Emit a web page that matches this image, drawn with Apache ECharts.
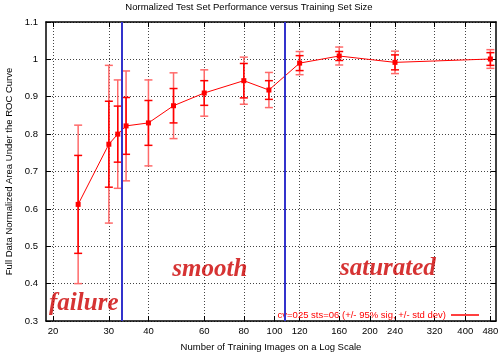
<!DOCTYPE html>
<html><head><meta charset="utf-8">
<script src="https://cdn.jsdelivr.net/npm/echarts@6/dist/echarts.min.js"></script>
<style>html,body{margin:0;padding:0;background:#fff}#c{width:498px;height:357px}</style>
</head><body><div id="c"></div>
<script>
// Training set sizes (x) and normalized AUC (y)
var trainSizes = [24, 30, 32, 34, 40, 48, 60, 80, 96, 120, 160, 240, 480];
var aucMean    = [0.612, 0.773, 0.800, 0.822, 0.830, 0.876, 0.910, 0.943, 0.918, 0.990, 1.009, 0.992, 1.001];
var sig95      = [0.212, 0.211, 0.145, 0.147, 0.115, 0.088, 0.062, 0.063, 0.047, 0.031, 0.024, 0.030, 0.025];
var stdDev     = [0.131, 0.115, 0.075, 0.076, 0.060, 0.046, 0.033, 0.046, 0.025, 0.020, 0.012, 0.020, 0.017];
var xTickValues = [20, 30, 40, 60, 80, 100, 120, 160, 200, 240, 320, 400, 480];
var regionBounds = [33, 108];
var annotTexts = ['failure', 'smooth', 'saturated'];
var annotX = [25, 62.5, 228];
var annotY = [0.346, 0.438, 0.440];
var seriesName = 'cv=025 sts=06 (+/- 95% sig, +/- std dev)';

var lineData = trainSizes.map(function (x, i) { return [x, aucMean[i]]; });
var errData = trainSizes.map(function (x, i) {
  return [x, aucMean[i] - sig95[i], aucMean[i] + sig95[i], aucMean[i] - stdDev[i], aucMean[i] + stdDev[i]];
});
var annotData = annotTexts.map(function (t, i) { return { value: [annotX[i], annotY[i]], name: t }; });

var FONT = 'Liberation Sans';
var chart = echarts.init(document.getElementById('c'), null, { renderer: 'canvas' });

function xAxisCfg(pos, showLabel) {
  return {
    type: 'log', logBase: 10, min: 19, max: 500, position: pos,
    name: showLabel ? 'Number of Training Images on a Log Scale' : '',
    nameLocation: 'middle', nameGap: 21,
    nameTextStyle: { fontFamily: FONT, fontSize: 9.5, color: '#000' },
    axisLine: { show: true, onZero: false, lineStyle: { color: '#000', width: 1.5 } },
    axisTick: { show: true, inside: true, length: 5, customValues: xTickValues, lineStyle: { color: '#000', width: 1 } },
    axisLabel: { show: showLabel, customValues: xTickValues, fontFamily: FONT, fontSize: 9.5, color: '#000', margin: 5 },
    splitLine: { show: showLabel, lineStyle: { color: '#444', width: 1, type: [1, 2] } },
    minorTick: { show: false }, minorSplitLine: { show: false }
  };
}
function yAxisCfg(pos, showLabel) {
  return {
    type: 'value', min: 0.3, max: 1.1, interval: 0.1, position: pos,
    name: showLabel ? 'Full Data Normalized Area Under the ROC Curve' : '',
    nameLocation: 'middle', nameGap: 28,
    nameTextStyle: { fontFamily: FONT, fontSize: 9.5, color: '#000' },
    axisLine: { show: true, onZero: false, lineStyle: { color: '#000', width: 1.5 } },
    axisTick: { show: true, inside: true, length: 5, lineStyle: { color: '#000', width: 1 } },
    axisLabel: { show: showLabel, fontFamily: FONT, fontSize: 9.5, color: '#000', margin: 8,
      formatter: function (v) { return String(Math.round(v * 10) / 10); } },
    splitLine: { show: showLabel, lineStyle: { color: '#444', width: 1, type: [1, 2] } }
  };
}

chart.setOption({
  animation: false,
  backgroundColor: '#fff',
  title: {
    text: 'Normalized Test Set Performance versus Training Set Size',
    left: 'center', top: 2, padding: 0,
    textStyle: { fontFamily: FONT, fontSize: 9.5, fontWeight: 'normal', color: '#000' }
  },
  legend: {
    data: [seriesName], right: 14, top: 305, align: 'right',
    icon: 'rect', itemWidth: 28, itemHeight: 1.5,
    textStyle: { fontFamily: FONT, fontSize: 9.5, color: '#ff0000' },
    itemStyle: { color: '#ff0000' }
  },
  grid: { left: 46, right: 2, top: 22, bottom: 36, containLabel: false, outerBoundsMode: 'none' },
  xAxis: [xAxisCfg('bottom', true), xAxisCfg('top', false)],
  yAxis: [yAxisCfg('left', true), yAxisCfg('right', false)],
  series: [
    {
      type: 'custom', name: 'err', xAxisIndex: 0, yAxisIndex: 0, z: 3,
      data: errData, encode: { x: 0, y: [1, 2, 3, 4] },
      renderItem: function (params, api) {
        var x = api.value(0);
        var lo95 = api.coord([x, api.value(1)]);
        var hi95 = api.coord([x, api.value(2)]);
        var loSd = api.coord([x, api.value(3)]);
        var hiSd = api.coord([x, api.value(4)]);
        var hw = 4;
        function seg(x1, y1, x2, y2, col) {
          return { type: 'line', shape: { x1: x1, y1: y1, x2: x2, y2: y2 },
            style: { stroke: col, lineWidth: 1.5 } };
        }
        var light = '#ff6a6a', dark = '#ff0000';
        return { type: 'group', children: [
          seg(lo95[0], lo95[1], hi95[0], hi95[1], light),
          seg(loSd[0], loSd[1], hiSd[0], hiSd[1], dark),
          seg(lo95[0] - hw, lo95[1], lo95[0] + hw, lo95[1], light),
          seg(hi95[0] - hw, hi95[1], hi95[0] + hw, hi95[1], light),
          seg(loSd[0] - hw, loSd[1], loSd[0] + hw, loSd[1], dark),
          seg(hiSd[0] - hw, hiSd[1], hiSd[0] + hw, hiSd[1], dark)
        ] };
      }
    },
    {
      type: 'line', name: seriesName, data: lineData, z: 4,
      lineStyle: { color: '#ff0000', width: 1 },
      itemStyle: { color: '#ff0000' },
      symbol: 'rect', symbolSize: 5, showSymbol: true,
      markLine: {
        silent: true, symbol: 'none', label: { show: false },
        lineStyle: { color: '#3333cc', width: 2, type: 'solid' },
        data: regionBounds.map(function (v) { return { xAxis: v }; })
      }
    },
    {
      type: 'scatter', name: 'annot', data: annotData, symbolSize: 0, z: 5, silent: true,
      label: {
        show: true, position: 'inside', formatter: '{b}',
        fontFamily: 'Liberation Serif', fontStyle: 'italic', fontWeight: 'bold',
        fontSize: 25, color: '#cc0000'
      }
    }
  ]
});
</script></body></html>
